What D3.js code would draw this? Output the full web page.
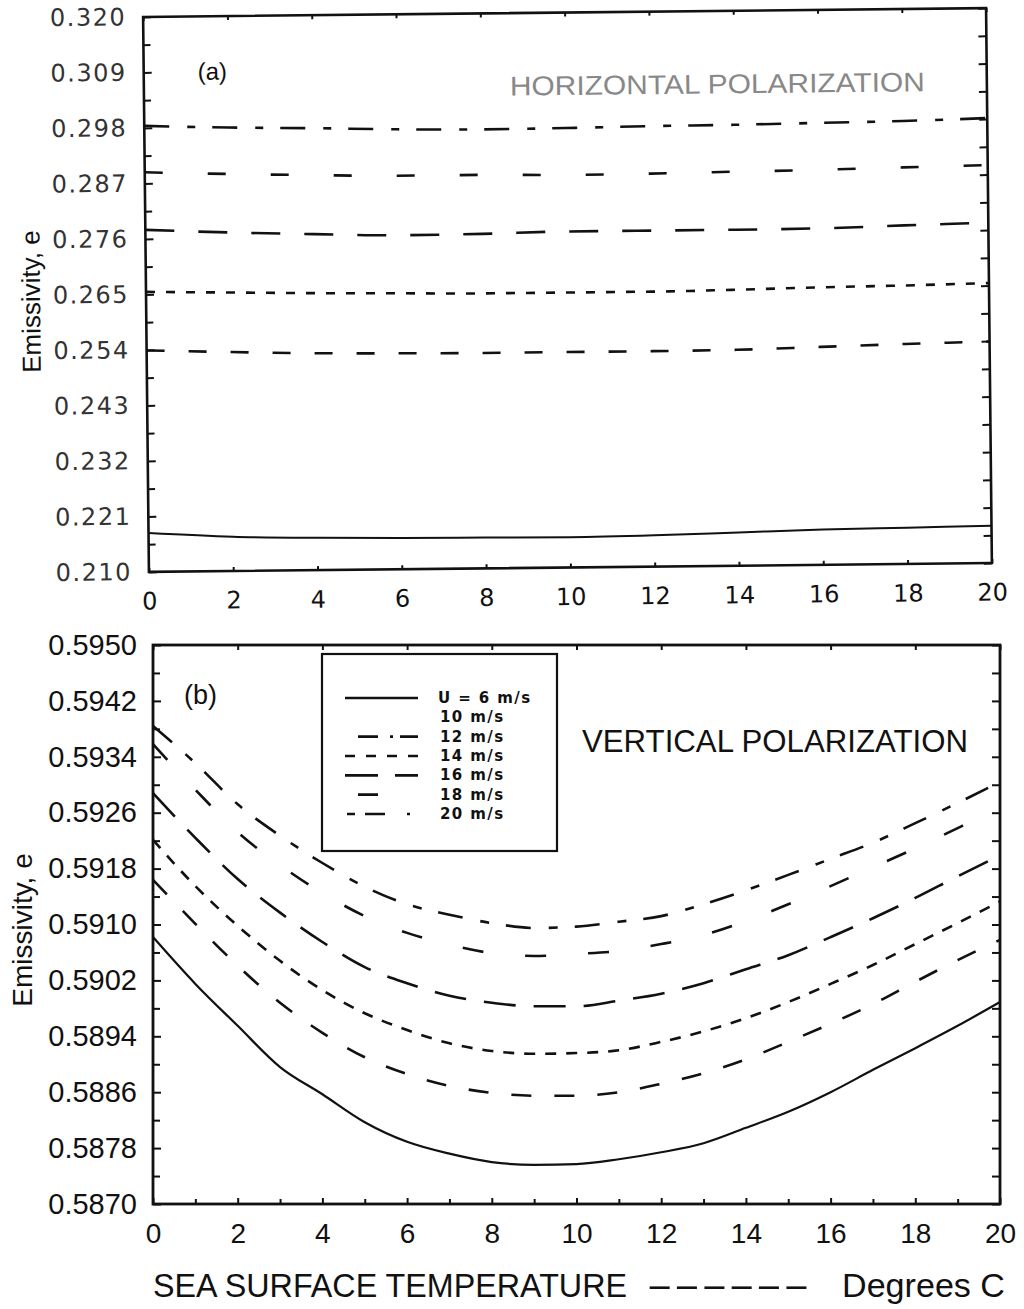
<!DOCTYPE html>
<html>
<head>
<meta charset="utf-8">
<script src="https://cdn.jsdelivr.net/npm/d3@7"></script>
<style>
  body { margin: 0; background: #fff; }
</style>
</head>
<body>
<div id="chart"></div>
<script>
// Sea surface temperature (deg C) and emissivity

// (a) horizontal polarization
var sstTop = [0, 2, 4, 6, 8, 10, 12, 14, 16, 18, 20];
var hU6  = [0.2177, 0.2168, 0.2164, 0.2162, 0.2161, 0.2160, 0.2162, 0.2166, 0.2170, 0.2172, 0.2174];
var hU20 = [0.2539, 0.2534, 0.2530, 0.2528, 0.2527, 0.2527, 0.2527, 0.2528, 0.2532, 0.2536, 0.2539];
var hU14 = [0.2655, 0.2652, 0.2649, 0.2647, 0.2645, 0.2645, 0.2645, 0.2647, 0.2650, 0.2652, 0.2655];
var hU16 = [0.2778, 0.2771, 0.2766, 0.2762, 0.2763, 0.2766, 0.2766, 0.2766, 0.2767, 0.2771, 0.2775];
var hU18 = [0.2892, 0.2887, 0.2883, 0.2880, 0.2880, 0.2878, 0.2879, 0.2881, 0.2883, 0.2886, 0.2889];
var hU12 = [0.2984, 0.2979, 0.2976, 0.2972, 0.2970, 0.2971, 0.2973, 0.2974, 0.2976, 0.2978, 0.2982];

// (b) vertical polarization
var sstBottom = [0, 1, 2, 3, 4, 5, 6, 7, 8, 9, 10, 11, 12, 13, 14, 15, 16, 17, 18, 19, 20];
var vU6  = [0.59082, 0.59015, 0.58955, 0.58896, 0.58857, 0.58817, 0.58789, 0.58772, 0.58760, 0.58756, 0.58757,
            0.58764, 0.58774, 0.58787, 0.58809, 0.58832, 0.58860, 0.58892, 0.58923, 0.58955, 0.58989];
var vU20 = [0.59164, 0.59101, 0.59041, 0.58988, 0.58945, 0.58910, 0.58886, 0.58869, 0.58859, 0.58855, 0.58855,
            0.58860, 0.58872, 0.58887, 0.58907, 0.58932, 0.58958, 0.58986, 0.59018, 0.59049, 0.59078];
var vU14 = [0.59221, 0.59155, 0.59098, 0.59048, 0.59006, 0.58973, 0.58949, 0.58930, 0.58919, 0.58915, 0.58916,
            0.58920, 0.58932, 0.58947, 0.58966, 0.58989, 0.59015, 0.59042, 0.59072, 0.59102, 0.59133];
var vU16 = [0.59288, 0.59224, 0.59165, 0.59117, 0.59075, 0.59039, 0.59016, 0.58998, 0.58988, 0.58983, 0.58983,
            0.58991, 0.59001, 0.59016, 0.59036, 0.59056, 0.59082, 0.59109, 0.59138, 0.59169, 0.59199];
var vU18 = [0.59358, 0.59293, 0.59232, 0.59185, 0.59145, 0.59112, 0.59088, 0.59071, 0.59059, 0.59055, 0.59058,
            0.59062, 0.59072, 0.59085, 0.59105, 0.59129, 0.59155, 0.59182, 0.59209, 0.59238, 0.59267];
var vU12 = [0.59384, 0.59331, 0.59272, 0.59227, 0.59188, 0.59154, 0.59129, 0.59114, 0.59102, 0.59095, 0.59097,
            0.59104, 0.59112, 0.59129, 0.59149, 0.59171, 0.59194, 0.59217, 0.59245, 0.59274, 0.59304];

// tick labels
var xTicks = [0, 2, 4, 6, 8, 10, 12, 14, 16, 18, 20];
var hTicks = [0.210, 0.221, 0.232, 0.243, 0.254, 0.265, 0.276, 0.287, 0.298, 0.309, 0.320];
var vTicks = [0.5870, 0.5878, 0.5886, 0.5894, 0.5902, 0.5910, 0.5918, 0.5926, 0.5934, 0.5942, 0.5950];

// legend entries (10 m/s has no line in the original)
var legendLabels = ["U = 6 m/s", "10 m/s", "12 m/s", "14 m/s", "16 m/s", "18 m/s", "20 m/s"];

// line styles, kept apart from the data
var topDash = { 6: null, 12: "25,18,8,17", 14: "9,11", 16: "29,24", 18: "18,45", 20: "18,24" };
var botDash = { 6: null, 12: "25,18,9,17", 14: "11,10", 16: "32,18", 18: "21,42", 20: "20,23" };
var legendDash = [null, "none", "0,13,20,12,3,7,18,40", "10,11", "33,17,23,40", "0,13,20,100", "0,2,8,10,20,22,3,100"];

var svgWidth = 1024;
var svgHeight = 1309;

var svg = d3.select("#chart")
  .append("svg")
  .attr("width", svgWidth)
  .attr("height", svgHeight);

// ---------- panel (a) ----------
// the scan is slightly tilted, so the whole panel is rotated a little
var boxA = { left: 146, right: 989, top: 12.5, bottom: 567.5 };
var gTop = svg.append("g")
  .attr("transform", "rotate(-0.6, 567.5, 290)");

var x1 = d3.scaleLinear().domain([0, 20]).range([boxA.left, boxA.right]);
var y1 = d3.scaleLinear().domain([0.210, 0.320]).range([boxA.bottom, boxA.top]);

var hMinor = d3.pairs(hTicks).map(p => (p[0] + p[1]) / 2);

gTop.append("g")
  .attr("transform", `translate(${boxA.left},0)`)
  .call(d3.axisLeft(y1).tickValues(hTicks).tickSize(-8).tickPadding(17)
    .tickFormat(d3.format(".3f")))
  .call(g => g.select(".domain").remove())
  .call(g => g.selectAll("text")
    .style("font-family", "DejaVu Sans")
    .style("font-size", "24px")
    .style("letter-spacing", "1.5px")
    .attr("fill", "#333"));

gTop.append("g")
  .attr("transform", `translate(${boxA.left},0)`)
  .call(d3.axisLeft(y1).tickValues(hMinor).tickSize(-7).tickFormat(""))
  .call(g => g.select(".domain").remove());

gTop.append("g")
  .attr("transform", `translate(${boxA.right},0)`)
  .call(d3.axisRight(y1).tickValues(hTicks.concat(hMinor)).tickSize(-8).tickFormat(""))
  .call(g => g.select(".domain").remove());

gTop.append("g")
  .attr("transform", `translate(0,${boxA.bottom})`)
  .call(d3.axisBottom(x1).tickValues(xTicks).tickSize(-4).tickPadding(20.5)
    .tickFormat(d3.format("d")))
  .call(g => g.select(".domain").remove())
  .call(g => g.selectAll("text")
    .style("font-family", "DejaVu Sans")
    .style("font-size", "24px")
    .attr("fill", "#111"));

gTop.append("g")
  .attr("transform", `translate(0,${boxA.top})`)
  .call(d3.axisTop(x1).tickValues(xTicks).tickSize(-4).tickFormat(""))
  .call(g => g.select(".domain").remove());

gTop.selectAll(".tick line").attr("stroke", "#111").attr("stroke-width", 2);

gTop.append("rect")
  .attr("x", boxA.left).attr("y", boxA.top)
  .attr("width", boxA.right - boxA.left).attr("height", boxA.bottom - boxA.top)
  .attr("fill", "none").attr("stroke", "#111").attr("stroke-width", 2.6);

var topSeries = [
  { speed: 6, values: hU6 },
  { speed: 20, values: hU20 },
  { speed: 14, values: hU14 },
  { speed: 16, values: hU16 },
  { speed: 18, values: hU18 },
  { speed: 12, values: hU12 }
];

var lineTop = d3.line()
  .x((d, i) => x1(sstTop[i]))
  .y(d => y1(d))
  .curve(d3.curveMonotoneX);

gTop.selectAll(".hline")
  .data(topSeries)
  .enter()
  .append("path")
  .attr("class", "hline")
  .attr("d", d => lineTop(d.values))
  .attr("fill", "none")
  .attr("stroke", "#111")
  .attr("stroke-width", d => d.speed === 6 ? 2 : 2.6)
  .attr("stroke-dasharray", d => topDash[d.speed]);

gTop.append("text")
  .attr("x", 200).attr("y", 76)
  .style("font-family", "Liberation Sans")
  .style("font-size", "24px")
  .attr("fill", "#111")
  .text("(a)");

gTop.append("text")
  .attr("x", 512).attr("y", 95)
  .attr("textLength", 415)
  .attr("lengthAdjust", "spacingAndGlyphs")
  .style("font-family", "Liberation Sans")
  .style("font-size", "27px")
  .attr("fill", "#888")
  .text("HORIZONTAL POLARIZATION");

gTop.append("text")
  .attr("transform", "translate(40,296) rotate(-90)")
  .attr("text-anchor", "middle")
  .style("font-family", "Liberation Sans")
  .style("font-size", "26px")
  .attr("fill", "#111")
  .text("Emissivity, e");

// ---------- panel (b) ----------
var boxB = { left: 153, right: 1000, top: 645, bottom: 1204 };
var gBot = svg.append("g");

var x2 = d3.scaleLinear().domain([0, 20]).range([boxB.left, boxB.right]);
var y2 = d3.scaleLinear().domain([0.5870, 0.5950]).range([boxB.bottom, boxB.top]);

var vMinor = d3.pairs(vTicks).map(p => (p[0] + p[1]) / 2);
var xMinor = sstBottom.filter(d => d % 2 === 1);

gBot.append("g")
  .attr("transform", `translate(${boxB.left},0)`)
  .call(d3.axisLeft(y2).tickValues(vTicks).tickSize(-8).tickPadding(16)
    .tickFormat(d3.format(".4f")))
  .call(g => g.select(".domain").remove())
  .call(g => g.selectAll("text")
    .style("font-family", "Liberation Sans")
    .style("font-size", "29px")
    .attr("fill", "#111"));

gBot.append("g")
  .attr("transform", `translate(${boxB.left},0)`)
  .call(d3.axisLeft(y2).tickValues(vMinor).tickSize(-7).tickFormat(""))
  .call(g => g.select(".domain").remove());

gBot.append("g")
  .attr("transform", `translate(${boxB.right},0)`)
  .call(d3.axisRight(y2).tickValues(vTicks.concat(vMinor)).tickSize(-8).tickFormat(""))
  .call(g => g.select(".domain").remove());

gBot.append("g")
  .attr("transform", `translate(0,${boxB.bottom})`)
  .call(d3.axisBottom(x2).tickValues(xTicks).tickSize(-6).tickPadding(19)
    .tickFormat(d3.format("d")))
  .call(g => g.select(".domain").remove())
  .call(g => g.selectAll("text")
    .style("font-family", "Liberation Sans")
    .style("font-size", "28px")
    .attr("fill", "#111"));

gBot.append("g")
  .attr("transform", `translate(0,${boxB.bottom})`)
  .call(d3.axisBottom(x2).tickValues(xMinor).tickSize(-5).tickFormat(""))
  .call(g => g.select(".domain").remove());

gBot.append("g")
  .attr("transform", `translate(0,${boxB.top})`)
  .call(d3.axisTop(x2).tickValues(xTicks).tickSize(-5).tickFormat(""))
  .call(g => g.select(".domain").remove());

gBot.selectAll(".tick line").attr("stroke", "#111").attr("stroke-width", 2);

gBot.append("rect")
  .attr("x", boxB.left).attr("y", boxB.top)
  .attr("width", boxB.right - boxB.left).attr("height", boxB.bottom - boxB.top)
  .attr("fill", "none").attr("stroke", "#111").attr("stroke-width", 2.8);

var botSeries = [
  { speed: 6, values: vU6 },
  { speed: 20, values: vU20 },
  { speed: 14, values: vU14 },
  { speed: 16, values: vU16 },
  { speed: 18, values: vU18 },
  { speed: 12, values: vU12 }
];

var lineBot = d3.line()
  .x((d, i) => x2(sstBottom[i]))
  .y(d => y2(d))
  .curve(d3.curveMonotoneX);

gBot.selectAll(".vline")
  .data(botSeries)
  .enter()
  .append("path")
  .attr("class", "vline")
  .attr("d", d => lineBot(d.values))
  .attr("fill", "none")
  .attr("stroke", "#111")
  .attr("stroke-width", d => d.speed === 6 ? 2.2 : 2.6)
  .attr("stroke-dasharray", d => botDash[d.speed]);

gBot.append("text")
  .attr("x", 184).attr("y", 704)
  .style("font-family", "Liberation Sans")
  .style("font-size", "27px")
  .attr("fill", "#111")
  .text("(b)");

gBot.append("text")
  .attr("x", 582).attr("y", 752)
  .attr("textLength", 386)
  .attr("lengthAdjust", "spacingAndGlyphs")
  .style("font-family", "Liberation Sans")
  .style("font-size", "31px")
  .attr("fill", "#111")
  .text("VERTICAL POLARIZATION");

gBot.append("text")
  .attr("transform", "translate(32,930) rotate(-90)")
  .attr("text-anchor", "middle")
  .style("font-family", "Liberation Sans")
  .style("font-size", "28px")
  .attr("fill", "#111")
  .text("Emissivity, e");

// legend box
var legend = gBot.append("g");
legend.append("rect")
  .attr("x", 322).attr("y", 654)
  .attr("width", 235).attr("height", 197)
  .attr("fill", "#fff").attr("stroke", "#111").attr("stroke-width", 2.2);

var legendRow = d3.scaleLinear().domain([0, 6]).range([703, 819]);

legend.selectAll(".sample")
  .data(legendLabels)
  .enter()
  .append("line")
  .attr("class", "sample")
  .attr("x1", 345).attr("x2", 418)
  .attr("y1", (d, i) => legendRow(i) - 5)
  .attr("y2", (d, i) => legendRow(i) - 5)
  .attr("stroke", (d, i) => legendDash[i] === "none" ? "none" : "#111")
  .attr("stroke-width", 2.6)
  .attr("stroke-dasharray", (d, i) => legendDash[i] === "none" ? null : legendDash[i]);

legend.selectAll(".ltext")
  .data(legendLabels)
  .enter()
  .append("text")
  .attr("class", "ltext")
  .attr("x", (d, i) => i === 0 ? 438 : 440)
  .attr("y", (d, i) => legendRow(i))
  .style("font-family", "DejaVu Sans")
  .style("font-weight", "bold")
  .style("font-size", "15px")
  .style("letter-spacing", "1.4px")
  .attr("fill", "#111")
  .text(d => d);

// x axis title
var titleParts = [
  { text: "SEA SURFACE TEMPERATURE", x: 153, len: 474 },
  { text: "------", x: 646, len: 164 },
  { text: "Degrees C", x: 842, len: 163 }
];
svg.selectAll(".xtitle")
  .data(titleParts)
  .enter()
  .append("text")
  .attr("class", "xtitle")
  .attr("x", d => d.x)
  .attr("y", 1297)
  .attr("textLength", d => d.len)
  .attr("lengthAdjust", "spacingAndGlyphs")
  .style("font-family", "Liberation Sans")
  .style("font-size", "34px")
  .attr("fill", "#111")
  .text(d => d.text);
</script>
</body>
</html>
